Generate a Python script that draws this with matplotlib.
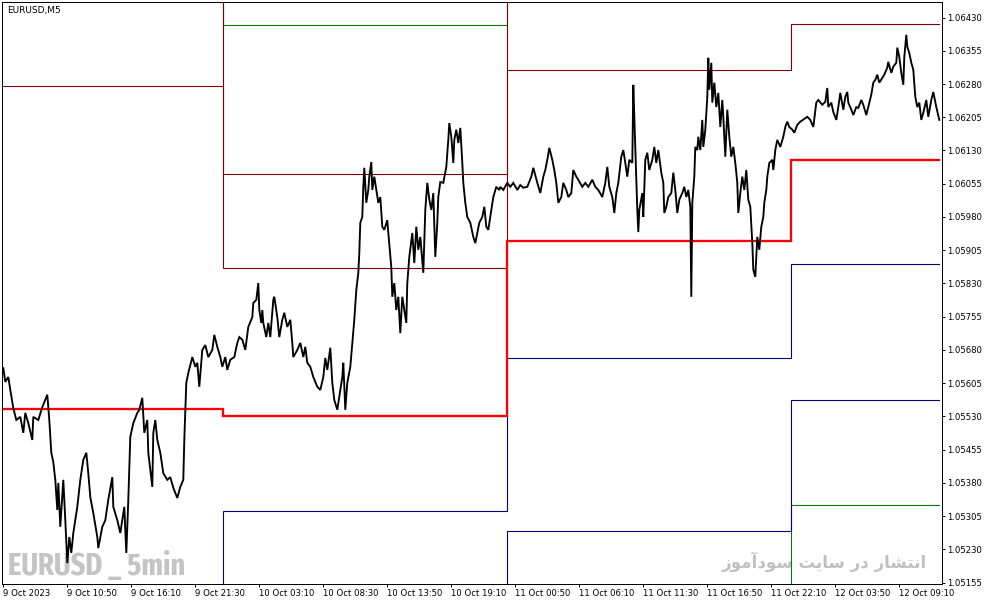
import unicodedata
import matplotlib
matplotlib.use("Agg")
import matplotlib.pyplot as plt
from matplotlib import font_manager as fm

# ---------------- data ----------------
chart_title = "EURUSD,M5"
watermark_left = "EURUSD _ 5min"
watermark_right = "انتشار در سایت سودآموز"

# M5 bar number (0 = first visible bar) and close price
bars = [0, 2, 5, 7, 10, 13, 17, 20, 22, 25, 29, 30, 35, 39, 44, 46, 48, 50, 52, 54, 55, 57, 60, 62, 64, 66, 68, 70,
        74, 77, 80, 83, 85, 87, 90, 94, 95, 99, 102, 105, 109, 110, 114, 117, 121, 123, 125, 127, 130, 134, 136, 139,
        141, 144, 145, 149, 150, 152, 154, 157, 160, 164, 167, 170, 174, 177, 180, 181, 182, 183, 185, 189, 192, 194,
        196, 199, 202, 205, 209, 211, 214, 217, 219, 222, 224, 227, 231, 234, 236, 239, 242, 245, 249, 250, 253, 255,
        256, 258, 259, 260, 263, 265, 267, 270, 271, 274, 276, 279, 281, 284, 287, 289, 290, 294, 297, 300, 302, 304,
        307, 310, 314, 317, 320, 322, 324, 327, 329, 331, 334, 336, 339, 340, 342, 344, 347, 349, 351, 353, 355, 356,
        357, 359, 360, 361, 363, 365, 366, 368, 369, 371, 373, 375, 377, 379, 381, 384, 385, 388, 389, 391, 393, 395,
        397, 399, 401, 403, 404, 406, 409, 411, 413, 415, 417, 420, 422, 424, 426, 428, 430, 432, 434, 435, 437, 440,
        443, 445, 446, 448, 450, 451, 453, 455, 457, 459, 460, 462, 464, 467, 470, 472, 474, 476, 479, 481, 483, 485,
        488, 490, 493, 496, 497, 500, 504, 507, 510, 514, 517, 520, 524, 528, 530, 534, 537, 540, 542, 544, 546, 549,
        551, 553, 555, 558, 560, 563, 565, 568, 570, 573, 575, 579, 582, 585, 589, 592, 595, 599, 602, 604, 606, 609,
        611, 613, 615, 618, 620, 622, 624, 626, 629, 630, 631, 633, 634, 635, 636, 639, 640, 642, 644, 646, 649, 651,
        653, 655, 658, 660, 661, 663, 665, 668, 670, 672, 674, 676, 679, 681, 683, 685, 687, 688, 689, 691, 692, 694,
        695, 697, 699, 700, 702, 704, 705, 706, 708, 709, 711, 713, 715, 717, 719, 720, 722, 724, 726, 728, 730, 732,
        734, 735, 737, 739, 741, 743, 745, 747, 749, 750, 752, 754, 756, 758, 760, 761, 763, 764, 766, 769, 770, 772,
        774, 777, 780, 782, 784, 786, 789, 791, 794, 797, 804, 807, 810, 813, 815, 819, 822, 824, 825, 828, 830, 833,
        835, 837, 840, 842, 844, 845, 848, 850, 853, 855, 858, 860, 863, 865, 868, 870, 872, 874, 876, 879, 881, 884,
        885, 888, 890, 893, 894, 896, 898, 900, 901, 903, 904, 906, 908, 910, 911, 912, 914, 916, 918, 920, 923, 925,
        928, 930, 933, 936]
closes = [1.05639, 1.05608, 1.05619, 1.05590, 1.05549, 1.05522, 1.05529, 1.05493, 1.05538, 1.05515, 1.05477, 1.05529,
          1.05522, 1.05551, 1.05579, 1.05522, 1.05448, 1.05427, 1.05387, 1.05319, 1.05380, 1.05281, 1.05387, 1.05296,
          1.05199, 1.05258, 1.05222, 1.05267, 1.05326, 1.05387, 1.05432, 1.05448, 1.05402, 1.05348, 1.05312, 1.05258,
          1.05233, 1.05281, 1.05296, 1.05342, 1.05393, 1.05326, 1.05296, 1.05267, 1.05326, 1.05222, 1.05342, 1.05484,
          1.05515, 1.05538, 1.05545, 1.05572, 1.05493, 1.05522, 1.05448, 1.05371, 1.05493, 1.05522, 1.05477, 1.05448,
          1.05402, 1.05387, 1.05393, 1.05369, 1.05346, 1.05371, 1.05387, 1.05477, 1.05545, 1.05606, 1.05628, 1.05664,
          1.05642, 1.05651, 1.05597, 1.05680, 1.05691, 1.05664, 1.05680, 1.05714, 1.05687, 1.05664, 1.05642, 1.05664,
          1.05635, 1.05658, 1.05664, 1.05696, 1.05709, 1.05703, 1.05680, 1.05732, 1.05754, 1.05786, 1.05793, 1.05831,
          1.05770, 1.05741, 1.05770, 1.05741, 1.05709, 1.05741, 1.05709, 1.05793, 1.05800, 1.05754, 1.05709, 1.05748,
          1.05764, 1.05732, 1.05748, 1.05696, 1.05664, 1.05680, 1.05696, 1.05664, 1.05687, 1.05651, 1.05642, 1.05619,
          1.05597, 1.05590, 1.05619, 1.05662, 1.05635, 1.05685, 1.05606, 1.05567, 1.05545, 1.05574, 1.05619, 1.05651,
          1.05545, 1.05606, 1.05642, 1.05696, 1.05748, 1.05815, 1.05854, 1.05899, 1.05967, 1.05980, 1.06048, 1.06091,
          1.06012, 1.06041, 1.06071, 1.06104, 1.06041, 1.06071, 1.06041, 1.06012, 1.06025, 1.05958, 1.05951, 1.05973,
          1.05944, 1.05867, 1.05800, 1.05831, 1.05770, 1.05800, 1.05718, 1.05800, 1.05770, 1.05741, 1.05831, 1.05890,
          1.05944, 1.05876, 1.05958, 1.05906, 1.05935, 1.05854, 1.05996, 1.06057, 1.06019, 1.05996, 1.06034, 1.05890,
          1.05967, 1.06025, 1.06059, 1.06057, 1.06093, 1.06154, 1.06192, 1.06161, 1.06102, 1.06154, 1.06177, 1.06147,
          1.06181, 1.06102, 1.06057, 1.06012, 1.05980, 1.05967, 1.05935, 1.05921, 1.05944, 1.05967, 1.05980, 1.06003,
          1.05958, 1.05951, 1.05996, 1.06025, 1.06048, 1.06041, 1.06048, 1.06041, 1.06057, 1.06048, 1.06057, 1.06041,
          1.06052, 1.06046, 1.06048, 1.06071, 1.06091, 1.06057, 1.06034, 1.06071, 1.06086, 1.06109, 1.06136, 1.06109,
          1.06086, 1.06057, 1.06012, 1.06025, 1.06057, 1.06041, 1.06025, 1.06034, 1.06086, 1.06071, 1.06064, 1.06048,
          1.06057, 1.06048, 1.06064, 1.06048, 1.06041, 1.06025, 1.06057, 1.06093, 1.06048, 1.06025, 1.05989, 1.06034,
          1.06057, 1.06116, 1.06131, 1.06102, 1.06071, 1.06109, 1.06102, 1.06278, 1.06206, 1.06071, 1.05996, 1.05946,
          1.05996, 1.06034, 1.05980, 1.06109, 1.06125, 1.06086, 1.06109, 1.06138, 1.06102, 1.06131, 1.06080, 1.06057,
          1.05989, 1.06003, 1.06025, 1.06034, 1.06080, 1.06041, 1.05989, 1.06019, 1.06034, 1.06048, 1.06025, 1.06041,
          1.06003, 1.05800, 1.06012, 1.06071, 1.06138, 1.06131, 1.06161, 1.06131, 1.06199, 1.06138, 1.06177, 1.06251,
          1.06339, 1.06267, 1.06328, 1.06238, 1.06283, 1.06228, 1.06260, 1.06183, 1.06244, 1.06206, 1.06116, 1.06222,
          1.06161, 1.06116, 1.06138, 1.06102, 1.06057, 1.05989, 1.06034, 1.06071, 1.06041, 1.06086, 1.06019, 1.06003,
          1.05921, 1.05861, 1.05845, 1.05935, 1.05906, 1.05958, 1.05980, 1.06012, 1.06041, 1.06071, 1.06102, 1.06109,
          1.06086, 1.06131, 1.06154, 1.06138, 1.06161, 1.06183, 1.06195, 1.06183, 1.06177, 1.06170, 1.06188, 1.06195,
          1.06206, 1.06199, 1.06183, 1.06238, 1.06244, 1.06233, 1.06240, 1.06271, 1.06228, 1.06238, 1.06217, 1.06199,
          1.06228, 1.06260, 1.06222, 1.06251, 1.06262, 1.06238, 1.06222, 1.06210, 1.06228, 1.06226, 1.06244, 1.06233,
          1.06210, 1.06228, 1.06256, 1.06283, 1.06289, 1.06301, 1.06283, 1.06294, 1.06301, 1.06317, 1.06330, 1.06305,
          1.06319, 1.06328, 1.06362, 1.06341, 1.06305, 1.06278, 1.06341, 1.06391, 1.06364, 1.06350, 1.06328, 1.06312,
          1.06283, 1.06251, 1.06228, 1.06238, 1.06199, 1.06215, 1.06244, 1.06206, 1.06244, 1.06262, 1.06228, 1.06199]

# daily pivot levels (first bar of each trading day, then one level per day)
day_first_bar = [0, 220, 504, 788]
last_bar = 936
pivot_r3 = [1.07538, 1.06414, 1.06960, 1.06956]
pivot_r2 = [1.06809, 1.06077, 1.06575, 1.06650]
pivot_r1 = [1.06276, 1.05865, 1.06311, 1.06415]
pivot_p = [1.05547, 1.05531, 1.05926, 1.06109]
pivot_s1 = [1.05014, 1.05317, 1.05662, 1.05874]
pivot_s2 = [1.04285, 1.04983, 1.05272, 1.05567]
pivot_s3 = [1.03752, 1.04769, 1.05013, 1.05330]

# axis ticks
x_tick_bars = [0, 64, 128, 192, 256, 320, 384, 448, 512, 576, 640, 704, 768, 832, 896]
x_tick_labels = ["9 Oct 2023", "9 Oct 10:50", "9 Oct 16:10", "9 Oct 21:30", "10 Oct 03:10", "10 Oct 08:30",
                 "10 Oct 13:50", "10 Oct 19:10", "11 Oct 00:50", "11 Oct 06:10", "11 Oct 11:30", "11 Oct 16:50",
                 "11 Oct 22:10", "12 Oct 03:50", "12 Oct 09:10"]
y_ticks = [1.05155, 1.05230, 1.05305, 1.05380, 1.05455, 1.05530, 1.05605, 1.05680, 1.05755, 1.05830,
           1.05905, 1.05980, 1.06055, 1.06130, 1.06205, 1.06280, 1.06355, 1.06430]
price_min, price_max = 1.05152, 1.06465


# ---------------- helpers ----------------
AR_FORMS = {  # isolated, final, initial, medial
    '\u0627': ('\uFE8D', '\uFE8E', None, None),
    '\u0622': ('\uFE81', '\uFE82', None, None),
    '\u062F': ('\uFEA9', '\uFEAA', None, None),
    '\u0631': ('\uFEAD', '\uFEAE', None, None),
    '\u0632': ('\uFEAF', '\uFEB0', None, None),
    '\u0648': ('\uFEED', '\uFEEE', None, None),
    '\u0646': ('\uFEE5', '\uFEE6', '\uFEE7', '\uFEE8'),
    '\u062A': ('\uFE95', '\uFE96', '\uFE97', '\uFE98'),
    '\u0634': ('\uFEB5', '\uFEB6', '\uFEB7', '\uFEB8'),
    '\u0633': ('\uFEB1', '\uFEB2', '\uFEB3', '\uFEB4'),
    '\u0645': ('\uFEE1', '\uFEE2', '\uFEE3', '\uFEE4'),
    '\u06CC': ('\uFEEF', '\uFEF0', '\uFEF3', '\uFEF4'),
}


def shape_rtl(text):
    text = unicodedata.normalize("NFC", text)
    chars = list(text)
    out = []
    for i, c in enumerate(chars):
        if c not in AR_FORMS:
            out.append(c)
            continue
        iso, fin, ini, med = AR_FORMS[c]
        prev = chars[i - 1] if i > 0 else None
        nxt = chars[i + 1] if i + 1 < len(chars) else None
        jp = prev in AR_FORMS and AR_FORMS[prev][2] is not None
        jn = nxt in AR_FORMS and ini is not None
        if jp and jn:
            out.append(med)
        elif jp:
            out.append(fin)
        elif jn:
            out.append(ini)
        else:
            out.append(iso)
    return "".join(reversed(out))


def step_series(levels):
    xs = list(day_first_bar) + [last_bar]
    ys = list(levels) + [levels[-1]]
    return xs, ys


def pick_condensed_bold():
    """Find an installed bold condensed/narrow sans font file (for the watermark)."""
    ranks = [("extracondensed", 0), ("semicondensed", 3), ("condensed", 1), ("narrow", 2)]
    best = None
    for f in fm.fontManager.ttflist:
        key = (f.name + " " + f.fname.split("/")[-1]).lower()
        key = key.replace("-", "").replace(" ", "").replace("_", "")
        if "italic" in key or "oblique" in key or "mono" in key or "serif" in key and "sans" not in key:
            continue
        w = f.weight
        if not isinstance(w, int):
            w = {"bold": 700, "black": 900, "heavy": 900, "extra bold": 800,
                 "semibold": 600, "demibold": 600}.get(str(w).lower(), 400)
        if w < 700 or w > 800:
            continue
        rank = None
        for word, r in ranks:
            if word in key:
                rank = r
                break
        if rank is None:
            continue
        score = (rank, abs(w - 700))
        if best is None or score < best[0]:
            best = (score, f.fname)
    return best[1] if best else None


# ---------------- figure ----------------
plt.rcParams['font.family'] = ['DejaVu Sans']
W, H = 987, 605
fig = plt.figure(figsize=(W / 100, H / 100), dpi=100)
fig.patch.set_facecolor("white")
ax = fig.add_axes([2.5 / W, 21 / H, 939.5 / W, 582 / H])
ax.set_facecolor("white")

px = 0.72  # one pixel in points
line_specs = [
    (pivot_s3, "#008000", 1.1 * px),
    (pivot_s2, "#000080", 1.1 * px),
    (pivot_s1, "#000080", 1.1 * px),
    (pivot_r3, "#008000", 1.1 * px),
    (pivot_r2, "#800000", 1.1 * px),
    (pivot_r1, "#800000", 1.1 * px),
    (pivot_p, "#FF0000", 2.3 * px),
]
for levels, col, lw in line_specs:
    xs, ys = step_series(levels)
    ax.plot([x - 0.5 for x in xs], ys, drawstyle="steps-post", color=col, lw=lw, zorder=2,
            solid_joinstyle="miter")

ax.plot(bars, closes, color="black", lw=1.35, zorder=3, solid_joinstyle="miter")

ax.set_xlim(-0.8, 938.7)
ax.set_ylim(price_min, price_max)

ax.yaxis.tick_right()
ax.set_yticks(y_ticks)
ax.set_yticklabels([f"{v:.5f}" for v in y_ticks])
ax.set_xticks(x_tick_bars)
ax.set_xticklabels(x_tick_labels)
for lbl in ax.get_xticklabels():
    lbl.set_horizontalalignment("left")
ax.tick_params(axis="y", direction="out", length=3 * px, width=px, pad=1.5, labelsize=6.1,
               colors="black")
ax.tick_params(axis="x", direction="out", length=3 * px, width=px, pad=1.5, labelsize=6.1,
               colors="black")
for sp in ax.spines.values():
    sp.set_linewidth(px)
    sp.set_color("black")


def ax_frac(xp, yp):
    return (xp - 2.5) / 939.5, (584 - yp) / 582


tx, ty = ax_frac(7, 6)
ax.text(tx, ty, chart_title, transform=ax.transAxes, ha="left", va="top", fontsize=6.5,
        color="black", zorder=5)

# left watermark: bold condensed face, sized to the reference width
cond_file = pick_condensed_bold()
if cond_file:
    wm_font = fm.FontProperties(fname=cond_file, size=22)
else:
    wm_font = fm.FontProperties(family=["Liberation Sans", "DejaVu Sans"], weight="bold", size=22)
wx, wy = ax_frac(8, 575)
wm = ax.text(wx, wy, watermark_left, transform=ax.transAxes, ha="left", va="baseline",
             fontproperties=wm_font, color="#c4c4c4", zorder=1)
renderer = fig.canvas.get_renderer()
wpx = wm.get_window_extent(renderer).width
wm.set_fontsize(22 * 177.0 / wpx)

rx, ry = ax_frac(927, 568)
ax.text(rx, ry, shape_rtl(watermark_right), transform=ax.transAxes, ha="right", va="baseline",
        fontsize=12, fontweight="bold", color="#c0c0c0", family=["DejaVu Sans"], zorder=1)

fig.savefig("out.png", dpi=100, facecolor="white")
